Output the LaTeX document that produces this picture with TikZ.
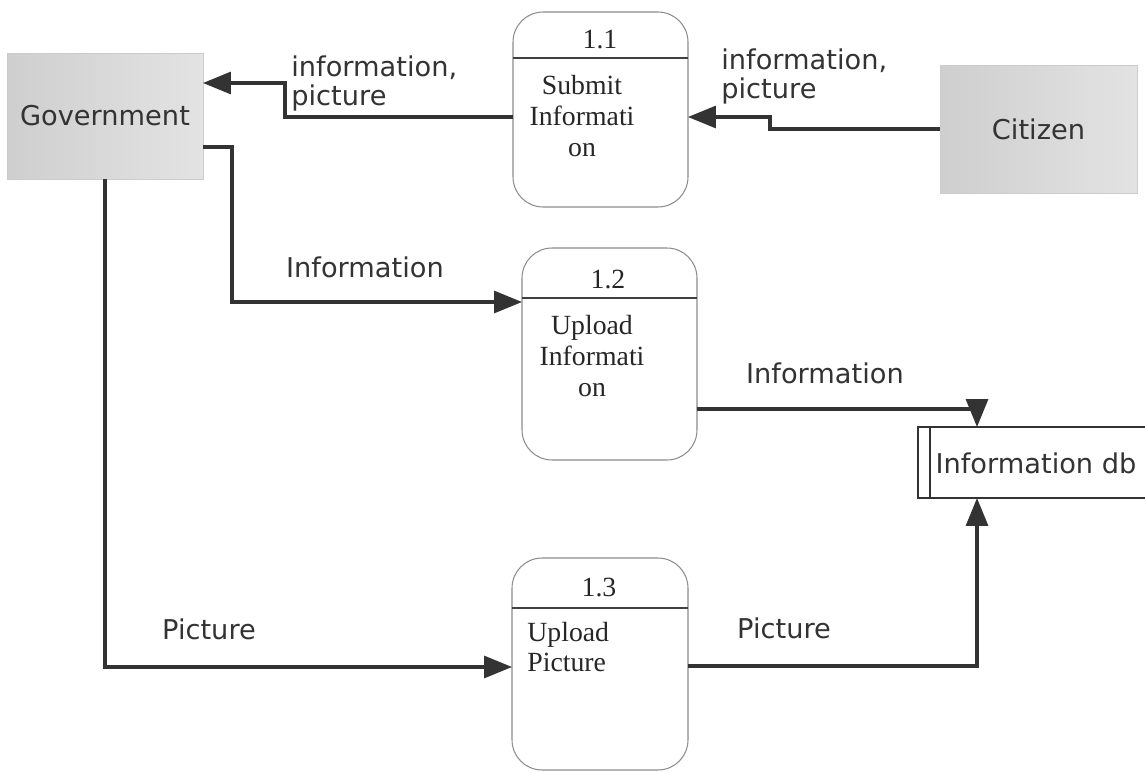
\documentclass[tikz,border=0pt]{standalone}
\usepackage{fontspec}
\setmainfont{Liberation Serif}
\newfontfamily\lblfont{DejaVu Sans}
\usetikzlibrary{arrows.meta}
\begin{document}
\begin{tikzpicture}[x=0.02cm,y=-0.02cm,
  flow/.style={draw=black!80, line width=1.8pt, -{Triangle[length=0.56cm,width=0.44cm]}},
  ext/.style={rectangle, inner sep=0pt, outer sep=0pt, left color=gray!38, right color=gray!22, draw=gray!40, line width=0.4pt, font=\lblfont\fontsize{15.5}{18}\selectfont, text=black!80},
  proc/.style={rectangle, inner sep=0pt, outer sep=0pt, rounded corners=0.6cm, draw=black!45, line width=0.6pt},
  ptext/.style={inner sep=0pt, font=\fontsize{15.8}{17.6}\selectfont, text=black!85},
  div/.style={draw=black!75, line width=1.2pt},
  dbs/.style={rectangle, inner sep=0pt, outer sep=0pt, draw=black!80, line width=1.6pt},
  lbl/.style={inner sep=0pt, font=\lblfont\fontsize{15.5}{16.5}\selectfont, text=black!80}
]
\useasboundingbox (0,0) rectangle (1145,773);

% external entities
\node[ext, minimum width=3.92cm, minimum height=2.52cm] (gov) at (105,116) {Government};
\node[ext, minimum width=3.94cm, minimum height=2.56cm] (cit) at (1038.5,129) {Citizen};

% processes
\node[proc, minimum width=3.5cm, minimum height=3.9cm] (p11) at (600.5,109.5) {};
\node[proc, minimum width=3.5cm, minimum height=4.24cm] (p12) at (609.5,354) {};
\node[proc, minimum width=3.52cm, minimum height=4.24cm] (p13) at (600,664) {};

\draw[div] (p11.west |- 0,58) -- (p11.east |- 0,58);
\draw[div] (p12.west |- 0,298) -- (p12.east |- 0,298);
\draw[div] (p13.west |- 0,608) -- (p13.east |- 0,608);

\node[ptext] (p11n) at (600,40) {1.1};
\node[ptext, align=center] (p11t) at (582,116) {Submit\\Informati\\on};
\node[ptext] (p12n) at (608,280) {1.2};
\node[ptext, align=center] (p12t) at (592,356) {Upload\\Informati\\on};
\node[ptext] (p13n) at (599,588) {1.3};
\node[ptext, align=left, anchor=west] (p13t) at (527,647) {Upload\\Picture};

% data store
\node[dbs, minimum width=4.84cm, minimum height=1.42cm] (db) at (1039,462.5) {};
\draw[dbs] (db.north -| 930,0) -- (db.south -| 930,0);
\node[lbl] (dbt) at (1036,463) {Information db};

% flows
\draw[flow] (cit.west) -| (770,117) -- (p11.east |- 0,117);
\draw[flow] (p11.west |- 0,117) -| (285,83) -- (gov.east |- 0,83);
\draw[flow] (gov.east |- 0,147) -| (232,302) -- (p12.west |- 0,302);
\draw[flow] (gov.south) |- (p13.west |- 0,667);
\draw[flow] (p12.east |- 0,409) -| (db.north -| 977,0);
\draw[flow] (p13.east |- 0,666) -| (db.south -| 977,0);

% labels
\node[lbl, anchor=west, align=left] (l1) at (291,83) {information,\\picture};
\node[lbl, anchor=west, align=left] (l2) at (721,76) {information,\\picture};
\node[lbl] (l3) at (365,267) {Information};
\node[lbl] (l4) at (209,629) {Picture};
\node[lbl] (l5) at (825,373) {Information};
\node[lbl] (l6) at (784,628) {Picture};
\end{tikzpicture}
\end{document}
